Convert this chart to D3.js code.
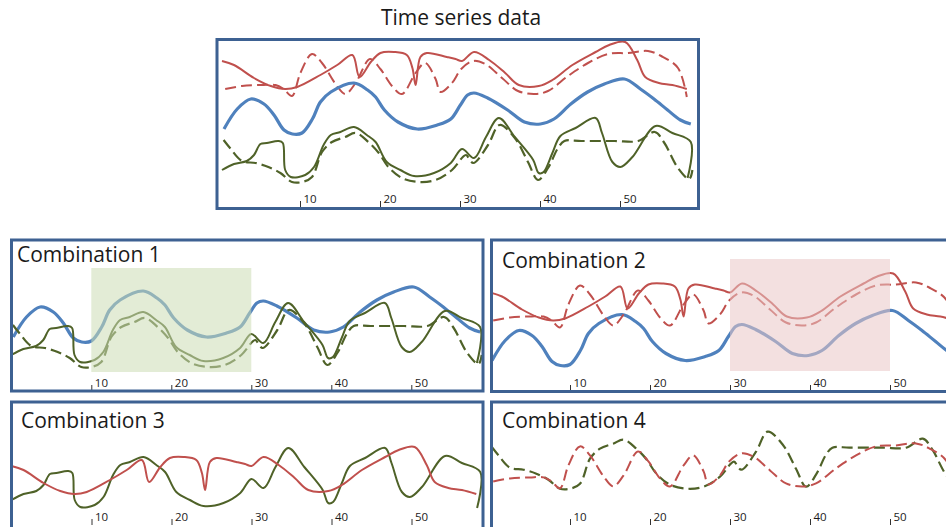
<!DOCTYPE html>
<html>
<head>
<meta charset="utf-8">
<script src="https://cdn.jsdelivr.net/npm/d3@7"></script>
<style>
  body { margin: 0; background: #fff; }
  text { font-family: "Open Sans", Lato, sans-serif; fill: #1a1a1a; }
</style>
</head>
<body>
<svg id="svg" width="946" height="527"></svg>
<script>
// values: [t, value]
const blue = [[0.25,71],[1.9,91],[3.6,101],[5.25,96],[6.5,85],[7.75,70],[8.8,66],[10,67],[11.3,81],[12.3,98],[13.6,108],[16.5,117],[18.2,110],[19.2,103],[20.3,90],[22,78],[24.4,71],[26.9,75],[28.6,81],[29.8,95],[30.7,105],[31.5,107],[33.2,102],[35.7,90],[37.8,78],[39.8,76],[41.5,81],[43.6,96],[45.7,108],[47.8,116],[50.3,121],[52.3,111],[54,101],[55.7,90],[57.3,80],[58.6,76]];
const redSolid = [[0,139],[1.5,135],[4,122],[6.1,114],[7.9,111],[9.4,113],[12.3,125],[14.4,135],[16.3,145],[17.2,123],[18.6,138],[19.8,147],[21.5,148],[23.1,145],[23.8,132],[24.2,115],[24.8,143],[25.6,147],[28.1,143],[29.2,141],[30,139],[31.5,148],[33.4,140],[35.4,127],[37.1,115],[39.6,114],[41.3,120],[43.8,135],[46.7,148],[48.4,155],[50.4,158],[51.9,140],[52.9,123],[54.6,117],[56.3,115],[58.1,111]];
const redDashed = [[0.4,111],[2.5,114],[5,115],[6.7,115],[7.7,111],[8.75,104],[9.8,127],[11.25,146],[12.5,137],[14.2,116],[15.4,106],[16.7,117],[18.5,141],[19.8,131],[21.25,114],[22.5,106],[24.2,127],[25.4,137],[26.7,121],[27.3,108],[28.75,117],[29.9,131],[31.4,139],[32.9,136],[35,122],[37,109],[39.1,106],[40.75,109],[43.25,124],[45.75,137],[48.25,146],[50.75,147],[53.25,149],[54.9,144],[57,132],[58.1,103]];
const greenSolid = [[0,30],[1.5,36],[3.1,39],[4,45],[4.8,56],[5.6,57],[7.1,59],[7.6,57],[7.9,30],[8.6,23],[10.4,25],[11.5,33],[12.7,55],[13.6,65],[14.8,68],[16.5,73],[18.1,65],[19.2,58],[20.6,38],[22.3,30],[24,24],[26.5,27],[28.6,37],[30,51],[31.5,42],[33,63],[34.6,82],[36.6,63],[38.9,40],[39.6,27],[40.2,28],[41.3,47],[42.3,64],[44.2,72],[46.7,82],[47.5,67],[48.8,38],[49.8,33],[51.3,43],[54.2,74],[56.3,67],[58.6,58],[58.2,22]];
const greenDashed = [[0.2,60],[1,52],[2.5,39],[4.2,37],[5.8,33],[7.3,27],[8.75,18],[10,18],[11.25,23],[12.5,48],[13.75,58],[15.4,63],[16.7,67],[18.3,58],[19.6,47],[20.8,33],[22.5,22],[24.6,18],[26.7,20],[28.75,30],[30.1,43],[30.5,45],[31.4,37],[33.25,55],[34.7,75],[36.6,62],[38.25,38],[39.5,20],[40.75,32],[42,52],[42.8,59],[44.9,59],[49.1,59],[52,59],[54.1,68],[55.3,57],[57,32],[58.4,21],[58.8,30]];

const tickValues = [10, 20, 30, 40, 50];
const titles = ['Combination 1', 'Combination 2', 'Combination 3', 'Combination 4'];

const series = { blue, redSolid, redDashed, greenSolid, greenDashed };
const styles = {
    blue:        { color: '#4f81bd', width: 3.2 },
    redSolid:    { color: '#c0504d', width: 2 },
    redDashed:   { color: '#c0504d', width: 2, dash: '11,5' },
    greenSolid:  { color: '#4f6228', width: 2 },
    greenDashed: { color: '#4f6228', width: 2.2, dash: '11,5' }
};

// layout: box corners, where t=0 sits, tick top, and vertical base per series
const panels = [
    { box: [217, 39.5, 698.5, 208.5], x0: 222, tick0: 220, tickTop: 201,
      lines: [['redSolid', 200], ['redDashed', 200], ['blue', 200], ['greenSolid', 200], ['greenDashed', 200]] },
    { box: [11.5, 240, 483, 391], x0: 11.3, tick0: 11.3, tickTop: 385, title: 0, tx: 17, ty: 262,
      lines: [['blue', 408], ['greenDashed', 385], ['greenSolid', 385]],
      hl: { from: 10, to: 30, y0: 268, y1: 372, fill: 'rgb(204,220,180)' } },
    { box: [491.5, 240, 970, 391.5], x0: 490, tick0: 490, tickTop: 385, title: 1, tx: 502, ty: 267.5,
      lines: [['blue', 431.5], ['redDashed', 431.5], ['redSolid', 431.5]],
      hl: { from: 30, to: 50, y0: 259, y1: 371, fill: 'rgb(233,199,199)' } },
    { box: [11.5, 402, 483, 560], x0: 11.5, tick0: 11.5, tickTop: 519, title: 2, tx: 21, ty: 428,
      lines: [['greenSolid', 530], ['redSolid', 605]] },
    { box: [491.5, 402, 970, 560], x0: 490, tick0: 490, tickTop: 519, title: 3, tx: 502, ty: 428,
      lines: [['greenDashed', 506.7], ['redDashed', 592.4]] }
];

const svg = d3.select('#svg');

svg.append('text')
    .attr('x', 461).attr('y', 25)
    .attr('text-anchor', 'middle')
    .attr('font-size', 21)
    .text('Time series data');

panels.forEach((p, i) => {
    const [bx0, by0, bx1, by1] = p.box;
    const g = svg.append('g');

    svg.append('clipPath').attr('id', 'clip' + i)
        .append('rect')
        .attr('x', bx0).attr('y', by0)
        .attr('width', bx1 - bx0).attr('height', by1 - by0);

    const x = d3.scaleLinear().domain([0, 58]).range([p.x0, p.x0 + 8 * 58]);
    const xTick = d3.scaleLinear().domain([0, 58]).range([p.tick0, p.tick0 + 8 * 58]);

    const plot = g.append('g').attr('clip-path', `url(#clip${i})`);

    p.lines.forEach(([name, base]) => {
        const y = d3.scaleLinear().domain([0, 160]).range([base, base - 160]);
        const line = d3.line()
            .x(d => x(d[0]))
            .y(d => y(d[1]))
            .curve(d3.curveCatmullRom.alpha(0.5));
        const st = styles[name];
        plot.append('path')
            .datum(series[name])
            .attr('d', line)
            .attr('fill', 'none')
            .attr('stroke', st.color)
            .attr('stroke-width', st.width)
            .attr('stroke-linejoin', 'round')
            .attr('stroke-dasharray', st.dash || null);
    });

    if (p.hl) {
        plot.append('rect')
            .attr('x', x(p.hl.from)).attr('y', p.hl.y0)
            .attr('width', x(p.hl.to) - x(p.hl.from))
            .attr('height', p.hl.y1 - p.hl.y0)
            .attr('fill', p.hl.fill)
            .attr('fill-opacity', 0.55);
    }

    const axis = g.append('g')
        .attr('transform', `translate(0,${p.tickTop})`)
        .call(d3.axisBottom(xTick).tickValues(tickValues).tickSizeInner(6).tickSizeOuter(0));
    axis.select('.domain').remove();
    axis.selectAll('line').attr('stroke', '#333');
    axis.selectAll('text')
        .attr('x', 3).attr('y', 1.5).attr('dy', 0)
        .attr('text-anchor', 'start')
        .attr('font-size', 11.5)
        .attr('font-family', 'Lato, sans-serif')
        .attr('fill', '#1a1a1a');

    g.append('rect')
        .attr('x', bx0).attr('y', by0)
        .attr('width', bx1 - bx0).attr('height', by1 - by0)
        .attr('fill', 'none')
        .attr('stroke', '#3d6192')
        .attr('stroke-width', 3);

    if (p.title !== undefined) {
        g.append('text')
            .attr('x', p.tx).attr('y', p.ty)
            .attr('font-size', 21)
            .text(titles[p.title]);
    }
});
</script>
</body>
</html>
